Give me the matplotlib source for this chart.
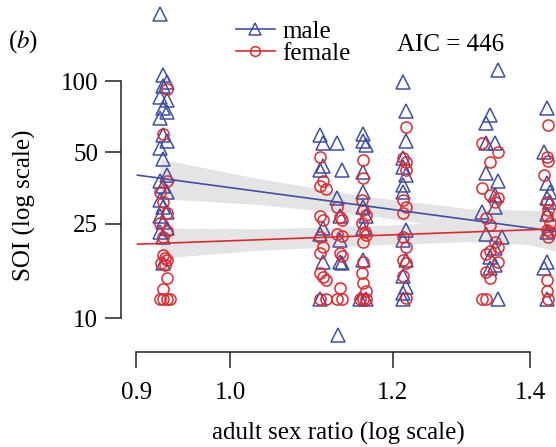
import matplotlib
matplotlib.use("Agg")
import matplotlib.pyplot as plt
from matplotlib.lines import Line2D

plt.rcParams['font.family'] = ['Liberation Serif', 'DejaVu Serif']
plt.rcParams['mathtext.fontset'] = 'stix'

BLUE = '#3d4fa5'
RED = '#e2282c'

# ---- data: male (triangles) ----
male_x = [0.924, 0.927, 0.931, 0.927, 0.924, 0.931, 0.927, 0.931, 0.924, 0.927,
          0.931, 0.924, 0.927, 0.931, 0.924, 0.927, 0.931, 0.924, 0.927, 0.931,
          0.924, 0.927, 0.931, 0.924, 0.927, 0.927,
          1.106, 1.110, 1.110, 1.106, 1.110, 1.106, 1.110, 1.106,
          1.127, 1.134, 1.127, 1.131, 1.131, 1.131, 1.134,
          1.161, 1.161, 1.165, 1.161, 1.161, 1.161, 1.165, 1.161, 1.161, 1.157, 1.165,
          1.129,
          1.214, 1.218, 1.218, 1.214, 1.214, 1.218, 1.214, 1.214, 1.218, 1.214,
          1.218, 1.214, 1.218, 1.214, 1.214,
          1.351, 1.339, 1.332, 1.332, 1.346, 1.332, 1.351, 1.346, 1.346, 1.327,
          1.332, 1.357, 1.346, 1.339, 1.346, 1.339, 1.351,
          1.427, 1.422, 1.427, 1.432, 1.427, 1.432, 1.427, 1.427, 1.427, 1.422, 1.427]
male_y = [192, 106, 99, 95, 86, 83, 77, 74, 70, 59,
          56, 52, 47, 40, 38, 36, 34, 31.5, 29.5, 28,
          27, 25.5, 24, 23, 22, 17,
          59, 55, 44, 42, 24, 22.6, 17.2, 12,
          55, 42, 32, 27, 21.3, 17.2, 17,
          60, 56, 54, 41.5, 34, 29.5, 27, 24, 17.6, 12, 12,
          8.5,
          99, 75, 56, 47.5, 43.5, 40, 36.5, 34, 23.5, 21.3,
          17.6, 15, 13.5, 12.7, 12,
          111, 72, 66.5, 55, 55, 41, 38, 33, 29.5, 28,
          22.6, 22, 19.7, 18.1, 16.8, 16.3, 12,
          77, 50, 37, 34, 32, 31, 27.5, 23, 17.2, 16.3, 12]

# ---- data: female (circles) ----
female_x = [0.931, 0.927, 0.931, 0.924, 0.927, 0.931, 0.924, 0.931, 0.927,
            0.927, 0.929, 0.931, 0.925, 0.929, 0.931, 0.927, 0.924, 0.927, 0.931, 0.934,
            1.106, 1.110, 1.106, 1.114, 1.106, 1.110, 1.106, 1.110, 1.106, 1.106,
            1.110, 1.114, 1.106, 1.114,
            1.127, 1.131, 1.134, 1.127, 1.134, 1.131, 1.134, 1.131, 1.127, 1.134,
            1.161, 1.161, 1.159, 1.161, 1.165, 1.159, 1.163, 1.165, 1.161, 1.161,
            1.159, 1.161, 1.165, 1.157, 1.161, 1.165,
            1.218, 1.214, 1.218, 1.218, 1.214, 1.218, 1.214, 1.214, 1.218, 1.214,
            1.218, 1.214, 1.218,
            1.327, 1.351, 1.339, 1.327, 1.339, 1.351, 1.346, 1.332, 1.339, 1.346,
            1.351, 1.339, 1.332, 1.351, 1.332, 1.339, 1.327, 1.332,
            1.429, 1.427, 1.429, 1.422, 1.427, 1.429, 1.427, 1.432, 1.427, 1.432,
            1.429, 1.427, 1.427, 1.429]
female_y = [93, 60, 38, 34, 31, 27.7, 25.3, 23.3, 22,
            18.5, 18, 17.5, 17, 16.8, 14.7, 13.3, 12, 12, 12, 12,
            48, 38, 36, 35, 27, 26, 22, 20, 18.8, 15.5,
            14.9, 14.5, 12, 12,
            29.5, 26.6, 26, 22.6, 22.2, 18.8, 18.3, 13.4, 12, 12,
            46.5, 39, 31.5, 28.6, 27.3, 25.3, 23, 22.5, 21, 17.2,
            15.5, 14, 13, 12, 12, 12,
            64, 47.5, 45.5, 42, 31.5, 29.5, 27.7, 22, 20, 17.6,
            17, 15, 12.2,
            55, 50, 45.5, 35.5, 33, 32, 31, 26.5, 24.8, 21,
            20, 19.2, 18.6, 17.2, 15.7, 14.7, 12, 12,
            65, 48, 46, 40, 31, 28.6, 27, 25.3, 23.5, 23,
            22, 14.5, 13, 12]

# ---- fitted lines and confidence bands ----
line_x = [0.901, 1.441]
male_line = [40.1, 23.2]
female_line = [20.5, 23.8]

band_x = [0.924, 1.030, 1.168, 1.305, 1.441]
male_lo = [31.9, 30.2, 27.1, 23.5, 19.2]
male_hi = [47.0, 38.9, 32.5, 29.0, 28.3]
female_lo = [17.9, 19.3, 20.3, 21.0, 20.2]
female_hi = [24.0, 23.8, 24.5, 25.5, 28.2]

x_ticks = [0.9, 1.0, 1.2, 1.4]
x_ticklabels = ['0.9', '1.0', '1.2', '1.4']
y_ticks = [10, 25, 50, 100]
y_ticklabels = ['10', '25', '50', '100']

W, H = 556, 447
fig = plt.figure(figsize=(W / 100, H / 100), dpi=100)
ax = fig.add_axes([121 / W, 95 / H, 435 / W, 352 / H])
ax.set_xscale('log')
ax.set_yscale('log')
ax.set_xlim(0.8845, 1.4414)
ax.set_ylim(7.19, 220)

ax.fill_between(band_x, male_lo, male_hi, color='#e4e4e4', lw=0, zorder=1)
ax.fill_between(band_x, female_lo, female_hi, color='#e4e4e4', lw=0, zorder=1)

ax.plot(male_x, male_y, ls='none', marker='^', ms=9.5, mfc='none', mec=BLUE, mew=1.1,
        zorder=2, clip_on=False)
ax.plot(female_x, female_y, ls='none', marker='o', ms=8, mfc='none', mec=RED, mew=1.1,
        zorder=2, clip_on=False)

ax.plot(line_x, male_line, color=BLUE, lw=1.2, zorder=3)
ax.plot(line_x, female_line, color=RED, lw=1.2, zorder=3)

for s in ['top', 'right']:
    ax.spines[s].set_visible(False)
for s in ['left', 'bottom']:
    ax.spines[s].set_color('#222222')
    ax.spines[s].set_linewidth(1.1)
ax.spines['left'].set_bounds(10, 100)
ax.spines['bottom'].set_bounds(0.9, 1.4)

ax.set_xticks(x_ticks)
ax.set_xticklabels(x_ticklabels)
ax.set_yticks(y_ticks)
ax.set_yticklabels(y_ticklabels)
ax.minorticks_off()
ax.tick_params(axis='both', length=11.5, width=1.1, color='#222222', labelsize=18)
ax.tick_params(axis='x', pad=10)
ax.tick_params(axis='y', pad=5)
ax.patch.set_visible(False)

fig.text(338 / W, 1 - 433 / H, 'adult sex ratio (log scale)', ha='center', va='center', fontsize=18)
fig.text(24 / W, 1 - 205 / H, 'SOI (log scale)', ha='center', va='center', rotation=90, fontsize=18)
fig.text(8 / W, 1 - 48 / H, r'($\mathit{b}$)', ha='left', va='baseline', fontsize=18)
fig.text(397 / W, 1 - 51 / H, 'AIC = 446', ha='left', va='baseline', fontsize=18)

handles = [Line2D([], [], color=BLUE, lw=1.2, marker='^', ms=9, mfc='none', mec=BLUE, mew=1.1),
           Line2D([], [], color=RED, lw=1.2, marker='o', ms=7, mfc='none', mec=RED, mew=1.1)]
fig.legend(handles, ['male', 'female'], loc='upper left', bbox_to_anchor=(236 / W, 1 - 20 / H),
           frameon=False, fontsize=18, handlelength=1.55, handletextpad=0.3,
           labelspacing=0.0, borderpad=0, borderaxespad=0)

fig.savefig('out.png', dpi=100)
